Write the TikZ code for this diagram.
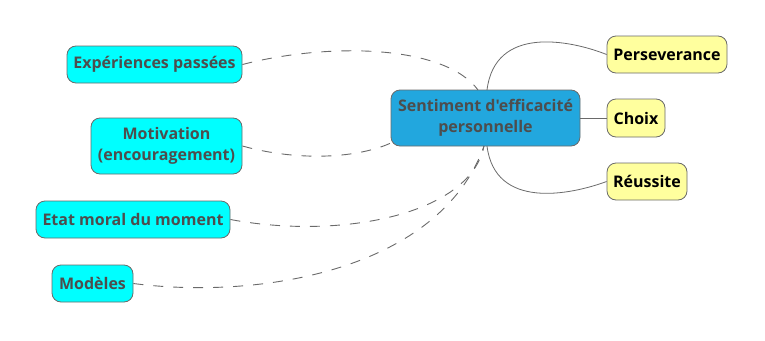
\documentclass[tikz,border=0pt]{standalone}
\usepackage{fontspec}
\setmainfont{Open Sans}[Ligatures=TeXOff]
\begin{document}
\begin{tikzpicture}[x=1pt,y=-1pt,font=\bfseries\fontsize{16}{21}\selectfont,
  topic/.style={draw=edge,line width=.8pt,rounded corners=9pt,align=center,inner sep=0pt},
  cause/.style={topic,fill=cyanbox,text=ink},
  effect/.style={topic,fill=yellowbox,text=black},
  link/.style={edge,line width=.9pt,dash pattern=on 10pt off 10pt},
  branch/.style={edge,line width=.8pt}]
\definecolor{ink}{HTML}{4D4D4D}\definecolor{edge}{HTML}{6A6A6A}
\definecolor{cyanbox}{HTML}{00FFFF}\definecolor{bluebox}{HTML}{22A7DE}
\definecolor{yellowbox}{HTML}{FFFF9E}
\useasboundingbox (0,0) rectangle (765,340);
% central topic
\node[topic,fill=bluebox,text=ink,minimum width=189pt,minimum height=56pt] (sep) at (485.5,118) {Sentiment d'efficacit\'e\\personnelle};
% sources
\node[cause,minimum width=175pt,minimum height=37pt] (exp) at (154.5,64.5) {Exp\'eriences pass\'ees};
\node[cause,minimum width=151pt,minimum height=56pt] (mot) at (166.5,146) {Motivation\\(encouragement)};
\node[cause,minimum width=194pt,minimum height=37pt] (etat) at (133,219.5) {Etat moral du moment};
\node[cause,minimum width=81pt,minimum height=37pt] (mod) at (92.5,283.5) {Mod\`eles};
% effects
\node[effect,minimum width=120pt,minimum height=37pt] (pers) at (667,54.5) {Perseverance};
\node[effect,minimum width=58pt,minimum height=38pt] (choix) at (636,118) {Choix};
\node[effect,minimum width=80pt,minimum height=37pt] (reus) at (647,181.5) {R\'eussite};
\coordinate (top) at (478,90);
\coordinate (bot) at (484,146);
\coordinate (corner) at (393,142);
\draw[link] (exp.east) .. controls (330,42) and (445,45) .. (top);
\draw[link] (mot.east) .. controls (300,162) and (360,158) .. (corner);
\draw[link] (etat.east) .. controls (340,240) and (470,215) .. (bot);
\draw[link] (mod.east) .. controls (260,300) and (440,270) .. (bot);
\coordinate (ptop) at (487,90);
\coordinate (pbot) at (487,146);
\draw[branch] (ptop) .. controls (495,25) and (570,40) .. (pers.west);
\draw[branch] (sep.east) -- (choix.west);
\draw[branch] (pbot) .. controls (495,210) and (570,195) .. (reus.west);
\end{tikzpicture}
\end{document}
